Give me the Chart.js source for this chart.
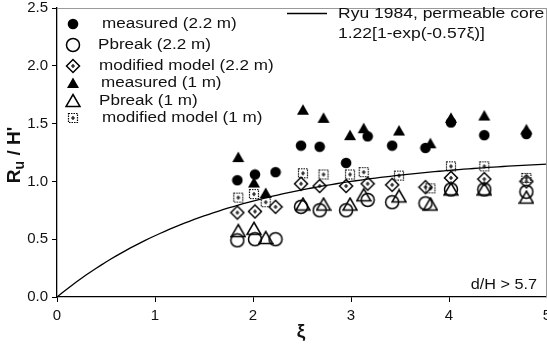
<!DOCTYPE html>
<html lang="en">
<head>
  <meta charset="UTF-8" />
  <title>Ru/H' vs xi</title>
  <script src="https://cdn.jsdelivr.net/npm/chart.js"></script>
  <style>
    body { margin: 0; background: #fff; }
    #wrap { position: relative; width: 547px; height: 344px; }
  </style>
</head>
<body>
  <div id="wrap"><canvas id="chart" width="547" height="344"></canvas></div>

  <script>
    // xi positions of the tests
    const xi22 = [1.84, 2.02, 2.23, 2.49, 2.68, 2.95, 3.17, 3.42, 3.76, 4.02, 4.36, 4.79];
    const xi1m = [1.85, 2.01, 2.13, 2.51, 2.72, 2.99, 3.13, 3.49, 3.81, 4.02, 4.36, 4.79];

    // Ru / H' values
    const measured22 = [1.01, 1.06, 1.08, 1.31, 1.30, 1.16, 1.39, 1.31, 1.29, 1.51, 1.40, 1.41];
    const pbreak22   = [0.49, 0.50, 0.50, 0.78, 0.75, 0.75, 0.84, 0.82, 0.81, 0.93, 0.93, 0.91];
    const model22    = [0.73, 0.74, 0.78, 0.98, 0.96, 0.96, 0.98, 0.97, 0.95, 1.03, 1.02, 1.00];
    const measured1m = [1.21, 0.99, 0.90, 1.62, 1.55, 1.40, 1.46, 1.44, 1.33, 1.55, 1.57, 1.45];
    const pbreak1m   = [0.57, 0.59, 0.51, 0.80, 0.80, 0.80, 0.88, 0.87, 0.80, 0.93, 0.93, 0.86];
    const model1m    = [0.86, 0.89, 0.82, 1.07, 1.06, 1.06, 1.08, 1.05, 0.94, 1.13, 1.13, 1.03];

    // Ryu 1984: 1.22[1-exp(-0.57 xi)]
    const ryuA = 1.22, ryuB = 0.57;
    const curveXi = [];
    for (let i = 0; i <= 100; i++) curveXi.push(i * 0.05);

    const xTicks = [0, 1, 2, 3, 4, 5];
    const yTicks = [0, 0.5, 1.0, 1.5, 2.0, 2.5];

    const legendLabels = [
      'measured (2.2 m)', 'Pbreak (2.2 m)', 'modified model (2.2 m)',
      'measured (1 m)', 'Pbreak (1 m)', 'modified model (1 m)'
    ];

    const pts = (xs, ys) => xs.map((x, i) => ({ x: x, y: ys[i] }));

    // marker images
    function marker(size, draw) {
      const c = document.createElement('canvas');
      c.width = size; c.height = size;
      const g = c.getContext('2d');
      g.strokeStyle = '#000'; g.fillStyle = '#000'; g.lineWidth = 1.5;
      draw(g, size / 2);
      return c;
    }
    const mFilledCircle = marker(12, (g, m) => { g.beginPath(); g.arc(m, m, 5.3, 0, Math.PI * 2); g.fill(); });
    const mOpenCircle = marker(16, (g, m) => { g.beginPath(); g.arc(m, m, 6.5, 0, Math.PI * 2); g.stroke(); });
    const mFilledTri = marker(14, (g, m) => {
      g.beginPath(); g.moveTo(m, 1.5); g.lineTo(m + 6, 12); g.lineTo(m - 6, 12); g.closePath(); g.fill();
    });
    const mOpenTri = marker(16, (g, m) => {
      g.beginPath(); g.moveTo(m, 1.5); g.lineTo(m + 7, 13.5); g.lineTo(m - 7, 13.5); g.closePath(); g.stroke();
    });
    const mDiamond = marker(16, (g, m) => {
      g.beginPath(); g.moveTo(m, m - 6.5); g.lineTo(m + 6.5, m); g.lineTo(m, m + 6.5); g.lineTo(m - 6.5, m); g.closePath(); g.stroke();
      g.lineWidth = 1.2;
      g.beginPath(); g.moveTo(m - 2, m); g.lineTo(m + 2, m); g.moveTo(m, m - 2); g.lineTo(m, m + 2); g.stroke();
    });
    const mSquare = marker(14, (g, m) => {
      g.lineWidth = 1.2; g.setLineDash([1.5, 1]);
      g.strokeRect(m - 4.5, m - 4.5, 9, 9);
      g.setLineDash([]);
      g.beginPath(); g.moveTo(m - 2, m); g.lineTo(m + 2, m); g.moveTo(m, m - 2); g.lineTo(m, m + 2); g.stroke();
    });
    const markers = [mFilledCircle, mOpenCircle, mDiamond, mFilledTri, mOpenTri, mSquare];

    const FONT = '"Liberation Sans", Arial, sans-serif';

    // horizontally stretched text, like the scanned figure
    function sText(ctx, s, x, y, sx, align) {
      ctx.save();
      ctx.translate(x, y);
      ctx.scale(sx, 1);
      ctx.textAlign = align || 'left';
      ctx.fillText(s, 0, 0);
      ctx.restore();
    }

    const overlay = {
      id: 'overlay',
      afterDraw(chart) {
        const ctx = chart.ctx;
        const a = chart.chartArea;
        ctx.save();
        // faint top / right frame
        ctx.strokeStyle = '#999'; ctx.lineWidth = 1;
        ctx.beginPath();
        ctx.moveTo(a.left, a.top + 0.5); ctx.lineTo(a.right, a.top + 0.5);
        ctx.moveTo(a.right - 0.5, a.top); ctx.lineTo(a.right - 0.5, a.bottom);
        ctx.stroke();

        // x tick labels (drawn here so the last one can run off the edge)
        ctx.fillStyle = '#111';
        ctx.textBaseline = 'middle';
        ctx.textAlign = 'center';
        ctx.font = '15px ' + FONT;
        xTicks.forEach(v => ctx.fillText(String(v), chart.scales.x.getPixelForValue(v), 316));

        // symbol legend
        const rows = [24, 45, 66, 83, 101, 118];
        const textX = [102, 98, 99, 101, 99, 102];
        ctx.font = '14px ' + FONT;
        rows.forEach((y, i) => {
          const img = markers[i];
          ctx.drawImage(img, 73 - img.width / 2, y - img.height / 2);
          sText(ctx, legendLabels[i], textX[i], y, 1.22);
        });

        // curve legend
        ctx.strokeStyle = '#000'; ctx.lineWidth = 1.3;
        ctx.beginPath(); ctx.moveTo(287, 13.5); ctx.lineTo(327, 13.5); ctx.stroke();
        sText(ctx, 'Ryu 1984, permeable core', 338, 14, 1.25);
        sText(ctx, '1.22[1-exp(-0.57ξ)]', 338, 34, 1.25);

        sText(ctx, 'd/H > 5.7', 537, 285, 1.16, 'right');

        // axis titles
        ctx.font = 'bold 19px ' + FONT;
        ctx.textAlign = 'center';
        ctx.fillText('ξ', 301, 332);

        ctx.translate(15, 155);
        ctx.rotate(-Math.PI / 2);
        ctx.textAlign = 'left';
        const wR = ctx.measureText('R').width;
        ctx.font = 'bold 14px ' + FONT;
        const wU = ctx.measureText('u').width;
        ctx.font = 'bold 19px ' + FONT;
        const rest = ' / H\'';
        const wRest = ctx.measureText(rest).width;
        const x0 = -(wR + wU + wRest) / 2;
        ctx.fillText('R', x0, 0);
        ctx.font = 'bold 14px ' + FONT;
        ctx.fillText('u', x0 + wR, 5);
        ctx.font = 'bold 19px ' + FONT;
        ctx.fillText(rest, x0 + wR + wU, 0);
        ctx.restore();
      }
    };

    const tickFont = { family: FONT, size: 15 };

    new Chart(document.getElementById('chart').getContext('2d'), {
      type: 'scatter',
      data: {
        datasets: [
          { label: legendLabels[0], data: pts(xi22, measured22), pointStyle: mFilledCircle },
          { label: legendLabels[3], data: pts(xi1m, measured1m), pointStyle: mFilledTri },
          { label: legendLabels[1], data: pts(xi22, pbreak22), pointStyle: mOpenCircle },
          { label: legendLabels[4], data: pts(xi1m, pbreak1m), pointStyle: mOpenTri },
          { label: legendLabels[2], data: pts(xi22, model22), pointStyle: mDiamond },
          { label: legendLabels[5], data: pts(xi1m, model1m), pointStyle: mSquare },
          {
            label: 'Ryu 1984',
            data: curveXi.map(x => ({ x: x, y: ryuA * (1 - Math.exp(-ryuB * x)) })),
            showLine: true, pointRadius: 0, borderColor: '#000', borderWidth: 1.3
          }
        ]
      },
      options: {
        responsive: false,
        animation: false,
        layout: { autoPadding: false, padding: { top: 8, right: 0, left: 0, bottom: 0 } },
        plugins: { legend: { display: false }, tooltip: { enabled: false } },
        scales: {
          x: {
            min: 0, max: 5,
            afterFit(s) { s.height = 47; s.paddingLeft = 0; s.paddingRight = 0; },
            afterBuildTicks(s) { s.ticks = xTicks.map(v => ({ value: v })); },
            grid: { drawOnChartArea: false, drawTicks: true, tickLength: 5, color: '#000' },
            border: { display: true, color: '#000', width: 1.3 },
            ticks: { display: false }
          },
          y: {
            min: 0, max: 2.5,
            afterFit(s) { s.width = 57; s.paddingTop = 0; s.paddingBottom = 0; },
            afterBuildTicks(s) { s.ticks = yTicks.map(v => ({ value: v })); },
            grid: { drawOnChartArea: false, drawTicks: true, tickLength: 5, color: '#000' },
            border: { display: true, color: '#000', width: 1.3 },
            ticks: { color: '#111', font: tickFont, padding: 4, callback: v => v.toFixed(1) }
          }
        }
      },
      plugins: [overlay]
    });
  </script>
</body>
</html>
